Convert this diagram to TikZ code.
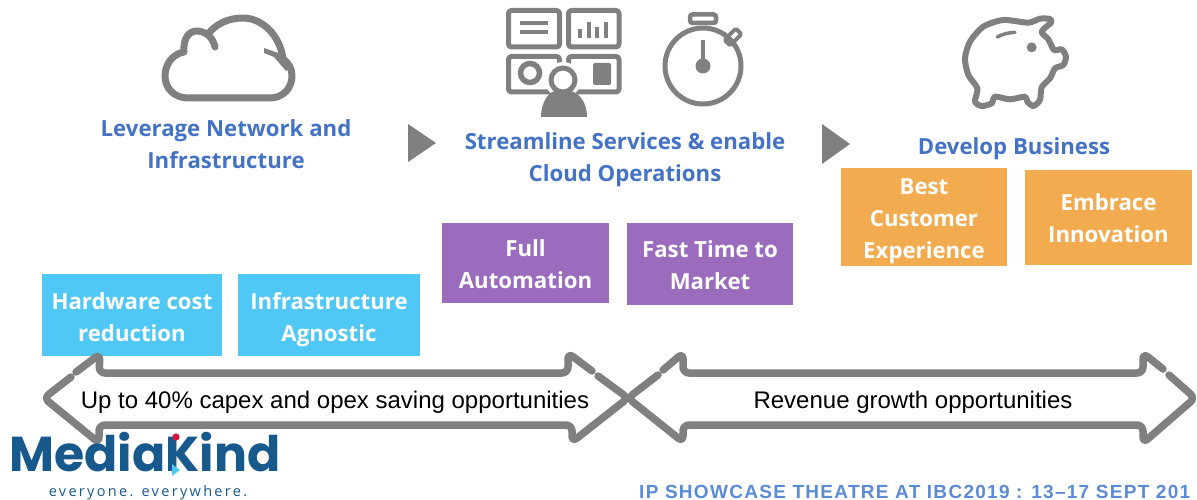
\documentclass[tikz,border=0pt]{standalone}
\usepackage{fontspec}
\setmainfont{Open Sans}
\newfontfamily\arialf{Liberation Sans}
\newfontfamily\footf[LetterSpace=6.8]{Liberation Sans}
\newfontfamily\logof{Poppins}
\newfontfamily\tagf[LetterSpace=16]{Open Sans}
\definecolor{iconc}{HTML}{808080}
\definecolor{headc}{HTML}{4472C4}
\definecolor{bluec}{HTML}{4FC8F5}
\definecolor{purpc}{HTML}{9B6BBD}
\definecolor{orangec}{HTML}{F2AB4E}
\definecolor{logoc}{HTML}{17598C}
\definecolor{footc}{HTML}{5B8BD6}
\definecolor{dotc}{HTML}{D7143C}
\tikzset{
  x=1pt,y=-1pt,
  head/.style={text=headc,font=\fontsize{22.2}{32}\selectfont\bfseries,align=center,inner sep=0pt},
  boxt/.style={text=white,font=\fontsize{22.2}{32}\selectfont\bfseries,align=center,inner sep=0pt},
  icon/.style={draw=iconc,line width=5pt,line join=round,line cap=round},
  cloudl/.style={draw=iconc,line width=7pt,line cap=round,line join=round},
  arrowl/.style={draw=iconc,line width=7.5pt,line cap=round,line join=round,rounded corners=6pt},
  tri/.style={fill=iconc,draw=none},
  arrowt/.style={font=\arialf\fontsize{24}{28}\selectfont,text=black,inner sep=0pt},
}
\newcommand{\colbox}[8]{% name, color, x0,y0,x1,y1, text centre y, text
  \fill[#2] (#3,#4) rectangle (#5,#6);
  \node[boxt] (#1) at ({(#3+#5)/2},#7) {\vphantom{Ap}#8\vphantom{Ap}};
}
\begin{document}
\begin{tikzpicture}
\useasboundingbox (0,0) rectangle (1197,500);
% cloud
\path[cloudl]
  (215,47) .. controls (213,37) and (205,31) .. (197,31)
  .. controls (189,31) and (183,38) .. (184,52)
  .. controls (172,54) and (165,65) .. (165,76)
  .. controls (165,89) and (175,98) .. (188,98)
  -- (270,98)
  .. controls (283,98) and (292,88) .. (292,76)
  .. controls (292,69) and (289,63) .. (283,59)
  .. controls (280,35) and (262,18) .. (243,18)
  .. controls (228,18) and (216,24) .. (208,34);
\fill[iconc] (264,48) -- (281,54) -- (289,68) -- (286,71) -- (274,57) -- (264,53) -- cycle;
% dashboard
\foreach \xa/\ya/\xb/\yb in {508.5/10.5/559.5/47,568.5/10.5/619/47,508.5/56.5/559.5/92,568.5/56.5/619/92}
  \draw[icon,rounded corners=3pt] (\xa,\ya) rectangle (\xb,\yb);
\draw[draw=iconc,line width=3.5pt] (520,23) -- (548,23) (520,32) -- (548,32);
\draw[draw=iconc,line width=3.5pt] (580,29) -- (580,38) (589,22) -- (589,38) (597,27) -- (597,38) (606,22) -- (606,38);
\draw[draw=iconc,line width=5.5pt] (530,73) circle (9.5);
\fill[iconc,rounded corners=1.5pt] (593,63) rectangle (611,85);
\fill[white] (563,80) circle (18);
\fill[white] (537,120) rectangle (591,95);
\draw[draw=iconc,line width=5pt] (563,80) circle (12);
\fill[iconc] (541,117) .. controls (541,102) and (549,92) .. (555,91)
  .. controls (560,94) and (566,94) .. (571,91)
  .. controls (579,93) and (587,102) .. (587,117) -- cycle;
% stopwatch
\draw[icon] (703,66) circle (38);
\draw[draw=iconc,line width=4.5pt,rounded corners=2.5pt] (690,14.5) rectangle (716,23);
\draw[draw=iconc,line width=4pt,rounded corners=1.5pt,rotate around={45:(733,37)}] (725,33) rectangle (741,41);
\draw[draw=iconc,line width=4pt] (703,40) -- (703,64);
\fill[iconc] (703,66) circle (7.5);
% pig
\begin{scope}[shift={(940,0)},x=0.3333pt,y=-0.3333pt]
\draw[draw=iconc,line width=6pt,line join=round] plot[smooth cycle,tension=0.45] coordinates {(265,68) (300,56) (330,57) (333,68) (305,95) (325,118) (342,150) (365,148) (378,170) (370,195) (345,205) (330,235) (305,262) (300,300) (280,318) (262,305) (255,290) (210,298) (165,290) (155,310) (125,318) (105,305) (112,265) (85,225) (75,175) (90,125) (130,80) (190,60)};
\draw[draw=iconc,line width=3.5pt,line cap=round] (172,111) .. controls (188,102) and (205,98) .. (225,97);
\fill[iconc] (275,142) circle (15);
\end{scope}
% headings
\node[head] (h1) at (226,147) {\vphantom{Ap}Leverage Network and\\Infrastructure\vphantom{Ap}};
\node[head] (h2) at (625,160) {\vphantom{Ap}Streamline Services \& enable\\Cloud Operations\vphantom{Ap}};
\node[head] (h3) at (1014,149) {\vphantom{Ap}Develop Business};
% triangles
\fill[tri] (408,124) -- (436,143) -- (408,162) -- cycle;
\fill[tri] (822,124) -- (850,144) -- (822,164) -- cycle;
% boxes
\colbox{b1}{bluec}{42}{274}{222}{356}{320}{Hardware cost\\reduction}
\colbox{b2}{bluec}{238}{274}{420}{356}{320}{Infrastructure\\Agnostic}
\colbox{b3}{purpc}{442}{223}{609}{303}{267}{Full\\Automation}
\colbox{b4}{purpc}{627}{223}{793}{305}{268}{Fast Time to\\Market}
\colbox{b5}{orangec}{841}{168}{1007}{266}{221}{Best\\Customer\\Experience}
\colbox{b6}{orangec}{1025}{170}{1192}{265}{221}{Embrace\\Innovation}
% double arrows
\path[arrowl] (76,372) -- (100,354) -- (99,373) -- (568,373) -- (568,353) -- (592,371);
\path[arrowl] (598,376) -- (628,398) -- (572,442) -- (572,425) -- (99,425) -- (99,443) -- (44,398) -- (71,377);
\path[arrowl] (658,375) -- (628,398) -- (683,442) -- (683,425) -- (1143,425) -- (1143,443) -- (1195,398) -- (1169,375);
\path[arrowl] (1163,369) -- (1143,353) -- (1143,373) -- (683,373) -- (683,353) -- (663,370);
\node[arrowt] (t1) at (335,402) {Up to 40\% capex and opex saving opportunities};
\node[arrowt] (t2) at (913,402) {Revenue growth opportunities};
% logo
\node[font=\logof\fontsize{49}{49}\selectfont\bfseries,text=logoc,inner sep=0pt,text depth=0pt,text height=34pt,anchor=base] (logo) at (145,471) {\smash{MediaKind}};
\fill[dotc] (176,437) circle (3.6);
\fill[bluec] (172,464) -- (180,470) -- (172,476) -- cycle;
\node[font=\tagf\fontsize{14.5}{16}\selectfont,text=logoc,inner sep=0pt] (tag) at (148,493) {everyone. everywhere.};
% footer
\node[font=\footf\fontsize{19}{20}\selectfont\bfseries,text=footc,inner sep=0pt,anchor=west] (foot) at (639,492) {IP SHOWCASE THEATRE AT IBC2019 : 13–17 SEPT 201};
\end{tikzpicture}
\end{document}
